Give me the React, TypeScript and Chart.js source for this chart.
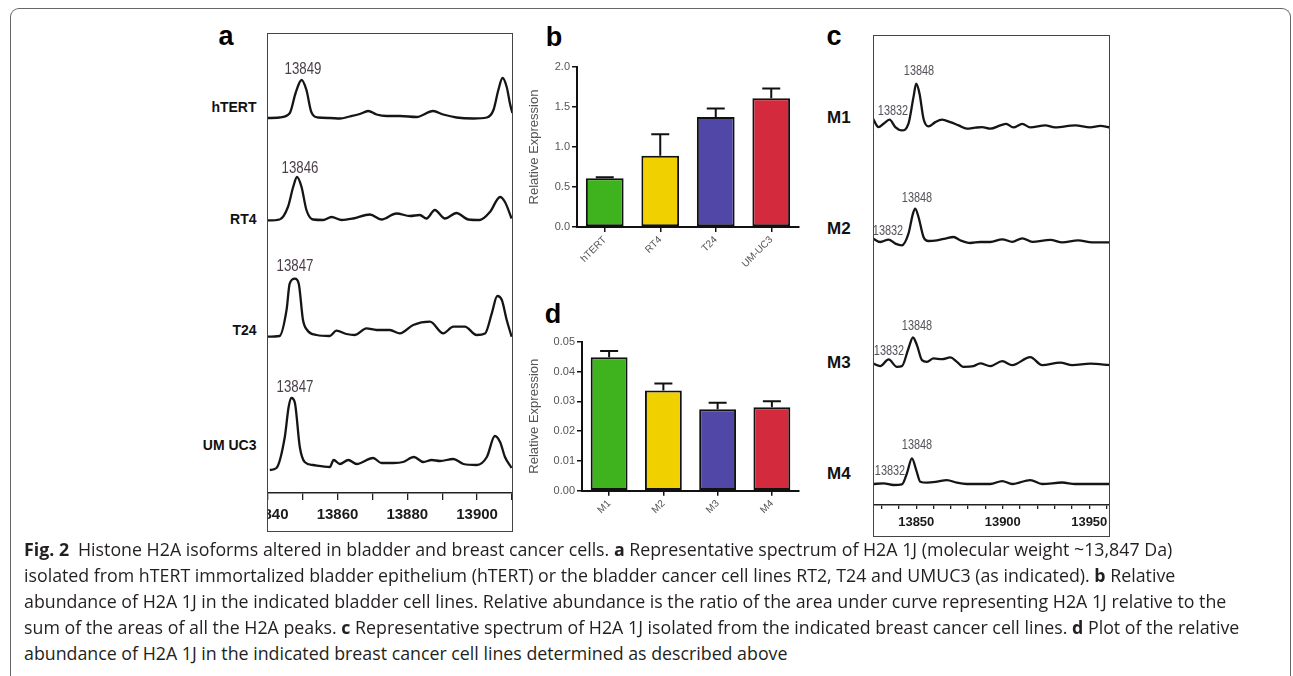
import React, { useEffect, useRef } from 'react';
import { Chart, registerables } from 'chart.js';

Chart.register(...registerables);

type Pt = [number, number];

// ---------------- DATA ----------------
// Panel a: spectra of bladder cell lines, [m/z (Da), intensity above trace baseline]
const aLines = ['hTERT', 'RT4', 'T24', 'UM UC3'];
const aPeakLabels = ['13849', '13846', '13847', '13847'];
const aTickLabels = [13840, 13860, 13880, 13900];

const specHTERT: Pt[] = [[13839.8, 0], [13843.4, 0.5], [13846.3, 4.7], [13848.0, 25], [13849.7, 38], [13851.1, 28], [13852.5, 6], [13854.4, 0.5], [13857.8, 0], [13860.7, -0.5], [13863.5, 1.5], [13866.4, 4], [13868.8, 7], [13871.2, 3.5], [13874.1, 2], [13877.9, 2], [13882.7, 1], [13887.4, 7], [13890.3, 3.5], [13894.1, 0.5], [13898.9, -0.5], [13902.8, 0.5], [13904.7, 8], [13906.1, 28], [13907.3, 40], [13908.5, 31], [13909.4, 15], [13910.1, 5]];
const specRT4: Pt[] = [[13839.8, -0.5], [13843.4, 0.5], [13845.8, 13], [13847.3, 33], [13848.4, 43], [13849.7, 33], [13851.1, 10], [13853.0, 0.5], [13855.9, 0], [13858.3, 3], [13861.2, 0], [13864.5, 1.5], [13869.3, 5.5], [13872.6, 0.5], [13876.9, 6.5], [13880.8, 4], [13883.6, 5], [13885.5, 1.5], [13887.9, 10], [13890.8, 1.5], [13894.1, 7], [13897.5, 0.5], [13900.8, 0], [13903.7, 8], [13906.6, 23], [13908.0, 18], [13909.9, 1.5]];
const specT24: Pt[] = [[13839.8, 0], [13843.4, 0.7], [13845.4, 26.7], [13846.3, 53], [13847.8, 58], [13848.9, 53], [13850.1, 17], [13851.3, 6.7], [13854.0, 1.7], [13857.8, 0.7], [13859.7, 6], [13862.6, 2.7], [13865.0, 1.7], [13868.3, 8.3], [13871.2, 6.7], [13875.0, 6.7], [13877.9, 3.3], [13881.7, 11.7], [13886.5, 15], [13890.3, 3.3], [13893.2, 10], [13896.5, 10], [13899.9, 1.7], [13902.3, 3.3], [13904.2, 23], [13905.8, 40.7], [13907.1, 36.7], [13908.5, 16.7], [13909.9, 0]];
const specUMUC3: Pt[] = [[13840.6, -2], [13842.5, 0], [13844.9, 31], [13846.0, 61], [13846.8, 70], [13847.8, 65], [13849.2, 21], [13850.6, 6], [13853.0, 3], [13857.8, 1], [13858.9, 8], [13860.7, 4], [13863.1, 8], [13865.5, 4], [13870.2, 10], [13872.6, 5], [13876.0, 5], [13878.8, 6], [13881.9, 11], [13884.6, 6], [13887.0, 8], [13889.4, 7], [13893.2, 9], [13896.1, 4], [13899.9, 3], [13902.8, 11], [13905.1, 32], [13906.6, 26], [13908.0, 11], [13909.9, 0]];

// Panel c: spectra of breast cancer cell lines
const cLines = ['M1', 'M2', 'M3', 'M4'];
const cMainPeak = '13848';
const cMinorPeak = '13832';
const cTickLabels = [13850, 13900, 13950];

const specM1: Pt[] = [[13825.0, 8.7], [13828.2, 0.3], [13831.1, 3.7], [13834.6, 7.7], [13837.9, 0.3], [13841.7, -3], [13845.5, 3.7], [13848.4, 30.3], [13850.0, 43.7], [13851.9, 33.7], [13854.2, 8.7], [13857.1, 1], [13861.0, 5.3], [13864.9, 7.7], [13869.7, 5.3], [13874.5, 2], [13879.3, -1.3], [13884.1, -0.3], [13888.0, 0.3], [13892.8, -1.3], [13898.6, 2], [13902.0, 3.5], [13906.1, 0], [13911.3, 3.5], [13915.9, 0], [13924.6, 2], [13930.3, 0], [13941.9, 2], [13950.6, 0], [13956.4, 1.5], [13962.1, 0]];
const specM2: Pt[] = [[13825.0, 3.7], [13829.2, 0.3], [13834.0, 2.7], [13837.9, -1.3], [13841.7, -3], [13845.5, 8.7], [13848.1, 28.7], [13849.4, 33.7], [13851.3, 25.3], [13854.2, 5.3], [13857.1, 1.3], [13862.0, 2], [13866.8, 3.7], [13871.6, 5.3], [13875.4, 2], [13881.2, -0.7], [13887.0, 0.3], [13892.8, 0.3], [13899.7, 3], [13905.5, 0.5], [13911.3, 4], [13917.1, 0.5], [13927.5, 2.5], [13934.4, 0], [13943.6, 2], [13951.7, 0], [13962.1, 0]];
const specM3: Pt[] = [[13825.0, 1.7], [13829.2, -1], [13834.0, 5.7], [13838.8, -1.7], [13841.7, -1], [13845.5, 16.7], [13848.1, 27.7], [13850.4, 20], [13853.3, 5], [13856.2, 3.3], [13860.0, 6.7], [13864.9, 6], [13869.7, 7.7], [13873.5, 3.3], [13877.3, -1.7], [13883.1, -1], [13887.0, 1.7], [13892.8, -1], [13899.7, 4], [13905.5, 0], [13915.9, 8], [13922.8, 0], [13933.2, 2.5], [13940.2, 0], [13950.6, 1.5], [13962.1, 0]];
const specM4: Pt[] = [[13825.0, 0], [13831.1, 0.7], [13836.9, -1], [13841.7, -0.3], [13844.6, 10.7], [13847.5, 25.7], [13850.0, 14], [13852.3, 2.3], [13856.2, 1.3], [13862.0, 2.3], [13867.7, 4], [13873.5, 1.3], [13879.3, 0], [13887.0, 0], [13892.8, 0], [13899.7, 3], [13905.5, 0], [13915.9, 4], [13922.8, 0], [13934.4, 1.5], [13941.9, 0], [13962.1, 0]];

// Panel b: relative expression, bladder
const bCategories = ['hTERT', 'RT4', 'T24', 'UM-UC3'];
const bValues = [0.61, 0.89, 1.375, 1.61];
const bErrors = [0.012, 0.27, 0.105, 0.12];

// Panel d: relative expression, breast
const dCategories = ['M1', 'M2', 'M3', 'M4'];
const dValues = [0.0448, 0.0336, 0.0273, 0.028];
const dErrors = [0.0021, 0.0024, 0.0022, 0.002];

const barColors = ['#3fb31d', '#f1d000', '#5047a6', '#d42a3d'];

// ---------------- HELPERS ----------------
const FONT = '"Liberation Sans", Arial, Helvetica, sans-serif';

const errorBarPlugin = {
  id: 'errorBars',
  afterDatasetsDraw(chart: any, _args: any, opts: any) {
    const errs: number[] = opts && opts.errors;
    if (!errs) return;
    const meta = chart.getDatasetMeta(0);
    const ys = chart.scales.y;
    const ctx = chart.ctx;
    const vals = chart.data.datasets[0].data;
    ctx.save();
    ctx.strokeStyle = '#111';
    ctx.lineWidth = 2;
    meta.data.forEach((bar: any, i: number) => {
      const top = ys.getPixelForValue(vals[i] + errs[i]);
      const base = ys.getPixelForValue(vals[i]);
      ctx.beginPath();
      ctx.moveTo(bar.x, base);
      ctx.lineTo(bar.x, top);
      ctx.moveTo(bar.x - 9, top);
      ctx.lineTo(bar.x + 9, top);
      ctx.stroke();
    });
    ctx.restore();
  },
};

function ChartCanvas({ left, top, width, height, make }: any) {
  const ref = useRef<HTMLCanvasElement>(null);
  useEffect(() => {
    const chart = new Chart(ref.current as HTMLCanvasElement, make());
    return () => chart.destroy();
  }, []);
  return (
    <canvas
      ref={ref}
      width={width}
      height={height}
      style={{ position: 'absolute', left, top, width, height, display: 'block' }}
    />
  );
}

function spectrumConfig(traces: Pt[][], offsets: number[], yMax: number, xMin: number, xMax: number, labels: number[], axisH: number, tickLen: number, fontSize: number, pad: number) {
  return {
    type: 'line',
    data: {
      datasets: traces.map((t, i) => ({
        data: t.map(([x, h]) => ({ x, y: h + offsets[i] })),
        borderColor: '#151515',
        borderWidth: 2.3,
        pointRadius: 0,
        cubicInterpolationMode: 'monotone',
        fill: false,
      })),
    },
    options: {
      animation: false,
      responsive: false,
      maintainAspectRatio: false,
      events: [],
      layout: { padding: 0 },
      plugins: { legend: { display: false }, tooltip: { enabled: false } },
      scales: {
        x: {
          type: 'linear',
          min: xMin,
          max: xMax,
          afterFit: (s: any) => { s.height = axisH; s.paddingLeft = 0; s.paddingRight = 0; },
          ticks: {
            stepSize: 10,
            includeBounds: false,
            autoSkip: false,
            maxRotation: 0,
            minRotation: 0,
            padding: pad,
            color: '#1a1a1a',
            font: { family: FONT, size: fontSize, weight: 'bold' },
            callback: (v: number) => (labels.includes(v) ? String(v) : ''),
          },
          grid: { drawOnChartArea: false, drawTicks: true, tickLength: tickLen, color: '#222', lineWidth: 1.3 },
          border: { display: true, color: '#222', width: 1.5 },
        },
        y: { display: false, min: 0, max: yMax },
      },
    },
  };
}

function barConfig(cats: string[], vals: number[], errs: number[], max: number, step: number, digits: number, yW: number, xH: number, padTop: number, padRight: number) {
  return {
    type: 'bar',
    data: {
      labels: cats,
      datasets: [{
        data: vals,
        backgroundColor: barColors,
        borderColor: '#111',
        borderWidth: 2,
        borderSkipped: false,
        barPercentage: 0.68,
        categoryPercentage: 1,
      }],
    },
    plugins: [errorBarPlugin],
    options: {
      animation: false,
      responsive: false,
      maintainAspectRatio: false,
      events: [],
      layout: { padding: { top: padTop, right: padRight, left: 0, bottom: 0 } },
      plugins: { legend: { display: false }, tooltip: { enabled: false }, errorBars: { errors: errs } },
      scales: {
        x: {
          afterFit: (s: any) => { s.height = xH; s.paddingLeft = 0; s.paddingRight = 0; },
          grid: { offset: false, drawOnChartArea: false, drawTicks: true, tickLength: 5, color: '#111', lineWidth: 1.5 },
          border: { display: true, color: '#111', width: 2 },
          ticks: { color: '#555', font: { family: FONT, size: 10 }, minRotation: 45, maxRotation: 45, padding: 2, autoSkip: false },
        },
        y: {
          min: 0,
          max,
          afterFit: (s: any) => { s.width = yW; s.paddingTop = 0; s.paddingBottom = 0; },
          grid: { drawOnChartArea: false, drawTicks: true, tickLength: 5, color: '#111', lineWidth: 1.5 },
          border: { display: true, color: '#111', width: 2 },
          ticks: { stepSize: step, color: '#555', padding: 2, font: { family: FONT, size: 11 }, callback: (v: number) => v.toFixed(digits) },
          title: { display: true, text: 'Relative Expression', color: '#555', font: { family: FONT, size: 13 }, padding: { top: 7, bottom: 0 } },
        },
      },
    },
  };
}

const T = ({ x, y, align = 'center', style, children }: any) => {
  const tx = align === 'center' ? '-50%' : align === 'right' ? '-100%' : '0';
  return (
    <div style={{ position: 'absolute', left: x, top: y, transform: `translate(${tx},-50%)`, whiteSpace: 'nowrap', lineHeight: 1, ...style }}>
      {children}
    </div>
  );
};

const Narrow = ({ x, y, size, color, children }: any) => (
  <div style={{ position: 'absolute', left: x, top: y, transform: 'translate(-50%,-50%) scaleX(0.78)', whiteSpace: 'nowrap', lineHeight: 1, fontFamily: FONT, fontSize: size, color }}>
    {children}
  </div>
);

// caption lines: [bold?, text]
const captionLines: [boolean, string][][] = [
  [[true, 'Fig. 2'], [false, '\u2002Histone H2A isoforms altered in bladder and breast cancer cells. '], [true, 'a'], [false, ' Representative spectrum of H2A 1J (molecular weight ~13,847 Da)']],
  [[false, 'isolated from hTERT immortalized bladder epithelium (hTERT) or the bladder cancer cell lines RT2, T24 and UMUC3 (as indicated). '], [true, 'b'], [false, ' Relative']],
  [[false, 'abundance of H2A 1J in the indicated bladder cell lines. Relative abundance is the ratio of the area under curve representing H2A 1J relative to the']],
  [[false, 'sum of the areas of all the H2A peaks. '], [true, 'c'], [false, ' Representative spectrum of H2A 1J isolated from the indicated breast cancer cell lines. '], [true, 'd'], [false, ' Plot of the relative']],
  [[false, 'abundance of H2A 1J in the indicated breast cancer cell lines determined as described above']],
];

export default function App() {
  const aTraces = [specHTERT, specRT4, specT24, specUMUC3];
  const aOffsets = [375, 273, 156.3, 25];
  const aRowY = [107, 219, 330, 445];
  const aPeakPos = [[303, 68], [300, 167], [295, 265], [295, 386]];

  const cTraces = [specM1, specM2, specM3, specM4];
  const cOffsets = [378, 263, 140, 21];
  const cRowY = [116.7, 228.3, 361.7, 473.3];
  const cMainPos = [[919, 70], [917, 197], [916.7, 325], [916.7, 444]];
  const cMinorPos = [[892.5, 109.5], [888, 230], [888.5, 350], [890, 469.5]];

  const letter = { fontFamily: FONT, fontWeight: 700, fontSize: 27, color: '#000' };

  return (
    <div style={{ position: 'absolute', left: 0, top: 0, width: 1293, height: 676, overflow: 'hidden', background: '#fff' }}>
      {/* outer frame */}
      <div style={{ position: 'absolute', left: 10, top: 8, width: 1281, height: 720, border: '1.5px solid #666', borderBottom: 'none', borderRadius: '9px 9px 0 0', boxSizing: 'border-box' }} />

      {/* panel letters */}
      <T x={226} y={35.6} style={letter}>a</T>
      <T x={554} y={37.3} style={letter}>b</T>
      <T x={834} y={35.6} style={letter}>c</T>
      <T x={553} y={313.6} style={letter}>d</T>

      {/* panel a */}
      <div style={{ position: 'absolute', left: 267, top: 33, width: 246, height: 499, overflow: 'hidden' }}>
        <ChartCanvas left={0} top={0} width={246} height={499}
          make={() => spectrumConfig(aTraces, aOffsets, 460, 13839.8, 13910.3, aTickLabels, 39, 7, 15, 6)} />
      </div>
      <div style={{ position: 'absolute', left: 267, top: 33, width: 246, height: 499, border: '1.5px solid #444', boxSizing: 'border-box' }} />
      {aLines.map((n, i) => (
        <T key={n} x={256.5} y={aRowY[i]} align="right" style={{ fontFamily: FONT, fontWeight: 700, fontSize: 14, color: '#111' }}>{n}</T>
      ))}
      {aPeakLabels.map((p, i) => (
        <Narrow key={i} x={aPeakPos[i][0]} y={aPeakPos[i][1]} size={17} color="#4a3f48">{p}</Narrow>
      ))}

      {/* panel b */}
      <ChartCanvas left={520} top={40} width={290} height={260}
        make={() => barConfig(bCategories, bValues, bErrors, 2, 0.5, 1, 57, 73, 27, 11)} />

      {/* panel d */}
      <ChartCanvas left={520} top={320} width={290} height={240}
        make={() => barConfig(dCategories, dValues, dErrors, 0.05, 0.01, 2, 62, 69.3, 21.7, 11)} />

      {/* panel c */}
      <div style={{ position: 'absolute', left: 873, top: 34.5, width: 237, height: 502.5, overflow: 'hidden' }}>
        <ChartCanvas left={0} top={0} width={237} height={502.5}
          make={() => spectrumConfig(cTraces, cOffsets, 470.5, 13825.0, 13962.0, cTickLabels, 32, 4, 13, 6)} />
        {cTraces.map((_, i) => (
          <React.Fragment key={i}>
            <Narrow x={cMainPos[i][0] - 873} y={cMainPos[i][1] - 34.5} size={14} color="#55505a">{cMainPeak}</Narrow>
            <Narrow x={cMinorPos[i][0] - 873} y={cMinorPos[i][1] - 34.5} size={14} color="#55505a">{cMinorPeak}</Narrow>
          </React.Fragment>
        ))}
      </div>
      <div style={{ position: 'absolute', left: 873, top: 34.5, width: 237, height: 502.5, border: '1.5px solid #444', boxSizing: 'border-box' }} />
      {cLines.map((n, i) => (
        <T key={n} x={827} y={cRowY[i]} align="left" style={{ fontFamily: FONT, fontWeight: 700, fontSize: 17, color: '#111' }}>{n}</T>
      ))}

      {/* caption */}
      {captionLines.map((line, i) => (
        <div key={i} style={{ position: 'absolute', left: 24, top: 549 + i * 26 - 13, height: 26, lineHeight: '26px', whiteSpace: 'pre', fontFamily: '"Open Sans", sans-serif', fontSize: 17.8, color: '#231f20' }}>
          {line.map(([b, t], j) => (
            <span key={j} style={{ fontWeight: b ? 700 : 400 }}>{t}</span>
          ))}
        </div>
      ))}
    </div>
  );
}
